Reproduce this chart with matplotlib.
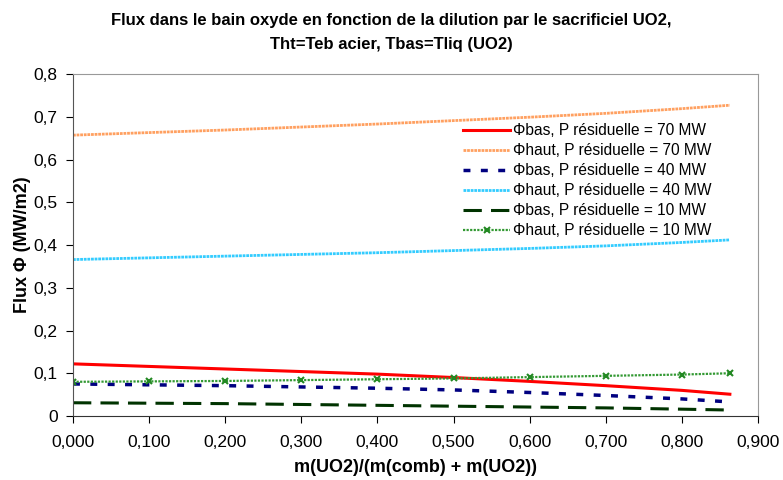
import matplotlib.pyplot as plt
import numpy as np

plt.rcParams['font.family'] = ['Liberation Sans', 'DejaVu Sans']

# dilution m(UO2)/(m(comb)+m(UO2))
x = [0.0, 0.1, 0.2, 0.3, 0.4, 0.5, 0.6, 0.7, 0.8, 0.863]

bas_70 = [0.122, 0.116, 0.110, 0.104, 0.098, 0.090, 0.081, 0.071, 0.060, 0.051]
haut_70 = [0.657, 0.663, 0.669, 0.676, 0.683, 0.691, 0.699, 0.708, 0.719, 0.727]
bas_40 = [0.075, 0.073, 0.071, 0.068, 0.065, 0.061, 0.055, 0.048, 0.040, 0.033]
haut_40 = [0.366, 0.370, 0.374, 0.378, 0.382, 0.387, 0.392, 0.398, 0.406, 0.412]
bas_10 = [0.031, 0.030, 0.029, 0.027, 0.025, 0.023, 0.021, 0.019, 0.016, 0.014]
haut_10 = [0.080, 0.081, 0.082, 0.084, 0.086, 0.088, 0.091, 0.094, 0.097, 0.100]

labels = ["\u03a6bas, P résiduelle = 70 MW",
          "\u03a6haut, P résiduelle = 70 MW",
          "\u03a6bas, P résiduelle = 40 MW",
          "\u03a6haut, P résiduelle = 40 MW",
          "\u03a6bas, P résiduelle = 10 MW",
          "\u03a6haut, P résiduelle = 10 MW"]

fig = plt.figure(figsize=(7.83, 4.8), dpi=100)
ax = fig.add_axes([0.0932, 0.1333, 0.8749, 0.7125])

ax.plot(x, bas_70, color="#ff0000", lw=2.2, label=labels[0])
ax.plot(x, haut_70, color="#ffa060", lw=2.0, ls=(0, (1, 0.3)), label=labels[1])
ax.plot(x, bas_40, color="#000080", lw=2.5, ls=(0, (2, 3)), label=labels[2])
ax.plot(x, haut_40, color="#33ccff", lw=2.0, ls=(0, (1, 0.3)), label=labels[3])
ax.plot(x, bas_10, color="#003300", lw=2.2, ls=(0, (6, 3)), label=labels[4])
ax.plot(x, haut_10, color="#339933", lw=1.6, ls=(0, (1, 0.6)), marker="x",
        markersize=4, markeredgewidth=1.5, markeredgecolor="#228822",
        label=labels[5])

ax.set_xlim(0, 0.9)
ax.set_ylim(0, 0.8)
ax.set_xticks(np.arange(0, 0.91, 0.1))
ax.set_xticklabels([f"{v:.3f}".replace(".", ",") for v in np.arange(0, 0.91, 0.1)])
ax.set_yticks(np.arange(0, 0.81, 0.1))
ax.set_yticklabels(["0"] + [f"{v:.1f}".replace(".", ",") for v in np.arange(0.1, 0.81, 0.1)])
ax.tick_params(labelsize=12.5, direction="out", length=5)
ax.tick_params(axis="x", pad=9)
ax.tick_params(axis="y", pad=6)

ax.spines['top'].set_color("#999999")
ax.spines['right'].set_color("#999999")
ax.spines['left'].set_color("#555555")
ax.spines['bottom'].set_color("#333333")

ax.set_xlabel("m(UO2)/(m(comb) + m(UO2))", fontsize=13, fontweight="bold", labelpad=6)
ax.set_ylabel("Flux \u03a6 (MW/m2)", fontsize=13, fontweight="bold", labelpad=2)
fig.suptitle("Flux dans le bain oxyde en fonction de la dilution par le sacrificiel UO2,\n"
             "Tht=Teb acier, Tbas=Tliq (UO2)", fontsize=12, fontweight="bold",
             y=0.972, linespacing=1.75)

ax.legend(loc="upper right", bbox_to_anchor=(0.948, 0.888), frameon=False,
          fontsize=11.2, handlelength=3.0, handletextpad=0.2, labelspacing=0.32,
          borderpad=0.2)

fig.savefig("out.png", dpi=100)
